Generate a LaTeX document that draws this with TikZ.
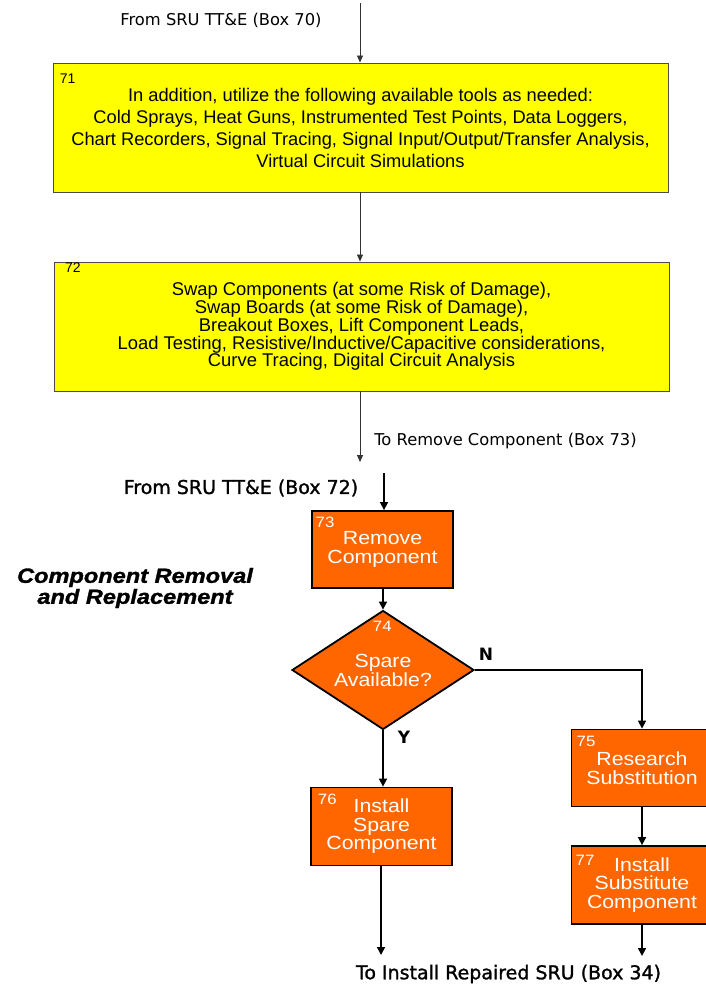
\documentclass[tikz,border=0pt]{standalone}
\usepackage{fontspec}
\setmainfont{Liberation Sans}
\newfontfamily\notefont{DejaVu Sans}
\newfontfamily\boldnotefont[FakeBold=1.3]{DejaVu Sans}
\newfontfamily\widefont[FakeStretch=1.12]{Liberation Sans}
\newfontfamily\headfont[FakeStretch=1.15,FakeBold=1.5]{Liberation Sans}
\usetikzlibrary{shapes.geometric,arrows.meta}
\definecolor{toolyellow}{HTML}{FFFF00}
\definecolor{steporange}{HTML}{FF6600}

\begin{document}
\begin{tikzpicture}[
  x=1pt, y=-1pt,
  toolbox/.style={rectangle, draw=black!70, line width=0.9pt, fill=toolyellow, minimum width=615pt, minimum height=129pt, inner sep=0pt, align=center},
  toolnum/.style={font=\fontsize{14}{14}\selectfont, inner sep=0pt},
  stepbox/.style={rectangle, draw=black, line width=1.8pt, fill=steporange, text=white, minimum width=141pt, inner sep=0pt, align=center, font=\widefont\fontsize{19}{18.5}\selectfont},
  decision/.style={diamond, draw=black, line width=1.8pt, fill=steporange, text=white, minimum width=182pt, minimum height=119pt, aspect=1.53, inner sep=0pt, align=center, font=\widefont\fontsize{19}{19}\selectfont},
  stepnum/.style={text=white, inner sep=0pt, font=\widefont\fontsize{15}{15}\selectfont},
  wire/.style={-{Triangle[length=7pt,width=6pt]}, draw=black!80, line width=0.8pt},
  flow/.style={-{Triangle[length=8pt,width=8pt]}, line width=1.6pt},
  note/.style={inner sep=0pt, font=\notefont\fontsize{16.3}{18}\selectfont},
  bignote/.style={inner sep=0pt, font=\boldnotefont\fontsize{19}{21}\selectfont},
  branch/.style={inner sep=0pt, font=\notefont\bfseries\fontsize{17}{18}\selectfont},
  heading/.style={inner sep=0pt, align=center, font=\headfont\bfseries\itshape\fontsize{20.5}{21}\selectfont}
]
\useasboundingbox (0,0) rectangle (706,987);
\clip (0,0) rectangle (706,987);

% Tool boxes
\node[toolbox, font=\fontsize{18.3}{22}\selectfont] (box71) at (360.5,127.5)
  {In addition, utilize the following available tools as needed:\\
   Cold Sprays, Heat Guns, Instrumented Test Points, Data Loggers,\\
   Chart Recorders, Signal Tracing, Signal Input/Output/Transfer Analysis,\\
   Virtual Circuit Simulations};
\node[toolbox, font=\fontsize{18.4}{17.8}\selectfont] (box72) at (361.5,326.5)
  {Swap Components (at some Risk of Damage),\\
   Swap Boards (at some Risk of Damage),\\
   Breakout Boxes, Lift Component Leads,\\
   Load Testing, Resistive/Inductive/Capacitive considerations,\\
   Curve Tracing, Digital Circuit Analysis};
\node[toolnum] (num71) at (67.7,79) {71};
\node[toolnum] (num72) at (73,268) {72};

% Top connectors
\node[note] (from70) at (221,20) {From SRU TT\&E (Box 70)};
\coordinate (in70) at (360,3);
\coordinate (out72) at (360,462);
\draw[wire] (in70) -- (in70 |- box71.north);
\draw[wire] (box71.south -| in70) -- (box72.north -| in70);
\draw[wire] (box72.south -| out72) -- (out72);
\node[note] (toremove) at (505.5,441) {To Remove Component (Box 73)};

% Component removal and replacement
\node[heading] (title) at (135,588) {Component Removal\\and Replacement};
\node[bignote] (from72) at (241,488) {From SRU TT\&E (Box 72)};
\coordinate (in72) at (384,473);

\node[stepbox, minimum height=77pt] (box73) at (382.5,549.5) {Remove\\Component};
\node[decision] (box74) at (383,670) {Spare\\Available?};
\node[stepbox, minimum height=77pt] (box75) at (642,768) {Research\\Substitution};
\node[stepbox, minimum height=78pt] (box76) at (381.5,826.5) {Install\\Spare\\Component};
\node[stepbox, minimum height=78pt] (box77) at (642,885) {Install\\Substitute\\Component};

\node[stepnum] (num73) at (325,522.3) {73};
\node[stepnum] (num74) at (382.3,626.7) {74};
\node[stepnum] (num75) at (586,741.7) {75};
\node[stepnum] (num76) at (327.3,799) {76};
\node[stepnum] (num77) at (585,860) {77};

\node[branch] (no) at (486,654) {N};
\node[branch] (yes) at (404,737) {Y};

\coordinate (out76) at (381,955);
\coordinate (out77) at (642,956);

% Flow lines
\draw[flow] (in72) -- (in72 |- box73.north);
\draw[flow] (box73.south -| box74.north) -- (box74.north);
\draw[flow] (box74.east) -| (box75.north);
\draw[flow] (box74.south) -- (box74.south |- box76.north);
\draw[flow] (box75) -- (box77);
\draw[flow] (box76.south -| out76) -- (out76);
\draw[flow] (box77) -- (out77);

\node[bignote] (to34) at (508.5,974) {To Install Repaired SRU (Box 34)};
\end{tikzpicture}
\end{document}
